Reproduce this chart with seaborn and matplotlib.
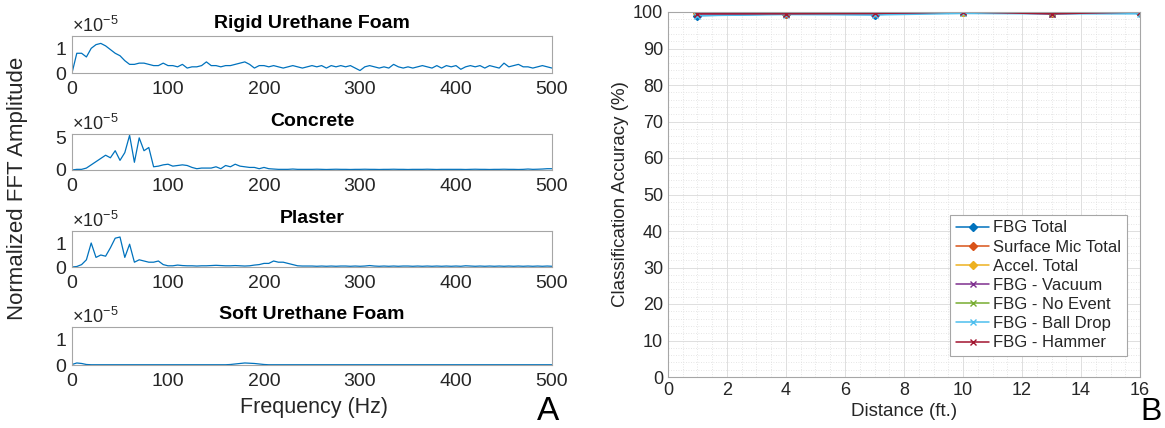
import numpy as np
import pandas as pd
import seaborn as sns
import matplotlib.pyplot as plt
from matplotlib.ticker import MultipleLocator

# ---- data (amplitudes in units of 1e-5) ----
freq = [0, 5, 10, 15, 20, 25, 30, 35, 40, 45,
        50, 55, 60, 65, 70, 75, 80, 85, 90, 95,
        100, 105, 110, 115, 120, 125, 130, 135, 140, 145,
        150, 155, 160, 165, 170, 175, 180, 185, 190, 195,
        200, 205, 210, 215, 220, 225, 230, 235, 240, 245,
        250, 255, 260, 265, 270, 275, 280, 285, 290, 295,
        300, 305, 310, 315, 320, 325, 330, 335, 340, 345,
        350, 355, 360, 365, 370, 375, 380, 385, 390, 395,
        400, 405, 410, 415, 420, 425, 430, 435, 440, 445,
        450, 455, 460, 465, 470, 475, 480, 485, 490, 495,
        500]

rigid_foam = [0, 0.8, 0.8, 0.65, 1.0, 1.15, 1.2, 1.1, 0.95, 0.8,
              0.7, 0.5, 0.35, 0.35, 0.4, 0.4, 0.35, 0.3, 0.3, 0.4,
              0.3, 0.3, 0.25, 0.35, 0.2, 0.25, 0.25, 0.3, 0.45, 0.3,
              0.3, 0.25, 0.3, 0.3, 0.35, 0.4, 0.45, 0.35, 0.2, 0.3,
              0.3, 0.25, 0.3, 0.25, 0.2, 0.25, 0.3, 0.25, 0.2, 0.25,
              0.3, 0.25, 0.3, 0.2, 0.3, 0.25, 0.3, 0.25, 0.3, 0.2,
              0.1, 0.25, 0.3, 0.25, 0.2, 0.25, 0.2, 0.35, 0.25, 0.2,
              0.25, 0.2, 0.25, 0.3, 0.25, 0.2, 0.3, 0.2, 0.3, 0.25,
              0.3, 0.15, 0.25, 0.3, 0.25, 0.3, 0.2, 0.3, 0.25, 0.2,
              0.4, 0.25, 0.3, 0.35, 0.25, 0.25, 0.2, 0.25, 0.3, 0.25,
              0.2]

concrete = [0, 0.1, 0.1, 0.3, 0.8, 1.3, 1.8, 2.3, 1.9, 3.0,
            1.5, 2.7, 5.4, 1.2, 5.0, 3.0, 3.5, 0.5, 0.6, 0.8,
            0.9, 0.6, 0.7, 0.8, 0.7, 0.4, 0.2, 0.3, 0.3, 0.3,
            0.5, 0.2, 0.7, 0.5, 0.9, 0.6, 0.5, 0.4, 0.4, 0.2,
            0.4, 0.2, 0.15, 0.1, 0.1, 0.1, 0.15, 0.1, 0.1, 0.1,
            0.1, 0.12, 0.1, 0.08, 0.1, 0.12, 0.1, 0.1, 0.08, 0.1,
            0.1, 0.12, 0.1, 0.1, 0.08, 0.1, 0.1, 0.12, 0.1, 0.1,
            0.08, 0.1, 0.1, 0.1, 0.12, 0.1, 0.08, 0.1, 0.1, 0.1,
            0.1, 0.1, 0.08, 0.1, 0.12, 0.1, 0.1, 0.08, 0.1, 0.1,
            0.12, 0.1, 0.1, 0.08, 0.1, 0.15, 0.1, 0.12, 0.15, 0.2,
            0.2]

plaster = [0, 0.02, 0.1, 0.3, 1.0, 0.4, 0.5, 0.45, 0.8, 1.2,
           1.25, 0.4, 0.95, 0.2, 0.3, 0.25, 0.2, 0.2, 0.25, 0.1,
           0.05, 0.05, 0.08, 0.06, 0.05, 0.05, 0.04, 0.05, 0.05, 0.06,
           0.07, 0.06, 0.05, 0.05, 0.06, 0.05, 0.04, 0.05, 0.08, 0.1,
           0.15, 0.15, 0.25, 0.2, 0.2, 0.15, 0.1, 0.05, 0.04, 0.04,
           0.04, 0.03, 0.04, 0.03, 0.04, 0.03, 0.04, 0.04, 0.03, 0.04,
           0.03, 0.04, 0.06, 0.04, 0.03, 0.04, 0.03, 0.04, 0.03, 0.04,
           0.04, 0.03, 0.04, 0.03, 0.04, 0.03, 0.04, 0.03, 0.04, 0.03,
           0.04, 0.03, 0.05, 0.04, 0.03, 0.04, 0.03, 0.04, 0.03, 0.04,
           0.03, 0.04, 0.03, 0.04, 0.03, 0.04, 0.03, 0.04, 0.03, 0.04,
           0.03]

soft_foam = [0.02, 0.08, 0.06, 0.02, 0.01, 0.01, 0.01, 0.01, 0.01, 0.01,
             0.01, 0.01, 0.01, 0.01, 0.01, 0.01, 0.01, 0.01, 0.01, 0.01,
             0.01, 0.01, 0.01, 0.01, 0.01, 0.01, 0.01, 0.01, 0.01, 0.01,
             0.01, 0.01, 0.01, 0.02, 0.04, 0.06, 0.08, 0.07, 0.06, 0.04,
             0.02, 0.01, 0.01, 0.01, 0.01, 0.01, 0.01, 0.01, 0.01, 0.01,
             0.01, 0.01, 0.01, 0.01, 0.01, 0.01, 0.01, 0.01, 0.01, 0.01,
             0.01, 0.01, 0.01, 0.01, 0.01, 0.01, 0.01, 0.01, 0.01, 0.01,
             0.01, 0.01, 0.01, 0.01, 0.01, 0.01, 0.01, 0.01, 0.01, 0.01,
             0.01, 0.01, 0.01, 0.01, 0.01, 0.01, 0.01, 0.01, 0.01, 0.01,
             0.01, 0.01, 0.01, 0.01, 0.01, 0.01, 0.01, 0.01, 0.01, 0.01,
             0.01]

materials = ["Rigid Urethane Foam", "Concrete", "Plaster", "Soft Urethane Foam"]
spectra = [rigid_foam, concrete, plaster, soft_foam]
ymax = [1.5, 5.6, 1.5, 1.5]
ytick_top = [1, 5, 1, 1]

distance = [1, 4, 7, 10, 13, 16]
fbg_total = [99.0, 99.5, 99.3, 100.0, 99.6, 99.8]
mic_total = [99.7, 99.5, 99.7, 100.0, 99.6, 100.0]
accel_total = [100.0, 100.0, 100.0, 100.0, 100.0, 100.0]
fbg_vacuum = [99.5, 99.5, 99.5, 100.0, 99.5, 100.0]
fbg_no_event = [100.0, 100.0, 100.0, 99.8, 100.0, 100.0]
fbg_ball_drop = [99.0, 99.3, 99.2, 99.6, 99.5, 99.5]
fbg_hammer = [99.5, 99.5, 99.6, 100.0, 99.5, 100.0]

series_names = ["FBG Total", "Surface Mic Total", "Accel. Total", "FBG - Vacuum",
                "FBG - No Event", "FBG - Ball Drop", "FBG - Hammer"]
series_vals = [fbg_total, mic_total, accel_total, fbg_vacuum,
               fbg_no_event, fbg_ball_drop, fbg_hammer]

# ---- style ----
sns.set_style("white")
plt.rcParams["font.family"] = ["Liberation Sans", "DejaVu Sans"]
plt.rcParams["mathtext.fontset"] = "custom"
plt.rcParams["mathtext.rm"] = "Liberation Sans"

matlab = ["#0072BD", "#D95319", "#EDB120", "#7E2F8E", "#77AC30", "#4DBEEE", "#A2142F"]
edge = "#a6a6a6"
txt = "#262626"

fig = plt.figure(figsize=(11.65, 4.28), dpi=100)
W, H = 1165, 428

def px_axes(left, top, right, bottom):
    return fig.add_axes([left / W, 1 - bottom / H, (right - left) / W, (bottom - top) / H])

# ---- panel A ----
boxes = [(36, 73), (134, 170), (231, 267), (327, 365)]
for name, vals, ym, yt, (top, bot) in zip(materials, spectra, ymax, ytick_top, boxes):
    ax = px_axes(72, top, 552, bot)
    sns.lineplot(x=freq, y=np.array(vals) * 1e-5, ax=ax, color="#0072BD", lw=0.9)
    ax.set_xlim(0, 500)
    ax.set_ylim(0, ym * 1e-5)
    ax.set_xticks([0, 100, 200, 300, 400, 500])
    ax.set_yticks([0, yt * 1e-5])
    ax.ticklabel_format(axis="y", style="sci", scilimits=(0, 0), useMathText=True)
    ax.yaxis.get_offset_text().set_fontsize(13)
    ax.yaxis.get_offset_text().set_color(txt)
    ax.tick_params(direction="in", length=3, labelsize=14, labelcolor=txt, width=0.6,
                   color=edge, top=False, right=False)
    ax.tick_params(axis="x", pad=6)
    for s in ax.spines.values():
        s.set_color(edge)
        s.set_linewidth(0.8)
    ax.set_title(name, fontsize=14, fontweight="bold", color="black", pad=6)

fig.text(18 / W, 1 - 188 / H, "Normalized FFT Amplitude", rotation=90,
         ha="center", va="center", fontsize=16, color=txt)
fig.text(314 / W, 1 - 408 / H, "Frequency (Hz)", ha="center", va="center",
         fontsize=15.5, color=txt)
fig.text(548 / W, 1 - 412 / H, "A", ha="center", va="center", fontsize=24, color="black")

# ---- panel B ----
axb = px_axes(668, 12, 1140, 377)
for name, vals, c in zip(series_names, series_vals, matlab):
    mk = "D" if "Total" in name else "x"
    sns.lineplot(x=distance, y=vals, ax=axb, color=c, lw=1.1, marker=mk,
                 markersize=4.5 if mk == "D" else 5, markeredgecolor=c,
                 markeredgewidth=1.0, label=name)
axb.set_xlim(0, 16)
axb.set_ylim(0, 100)
axb.set_xticks(range(0, 17, 2))
axb.set_yticks(range(0, 101, 10))
axb.xaxis.set_minor_locator(MultipleLocator(0.5))
axb.yaxis.set_minor_locator(MultipleLocator(2))
axb.grid(which="major", color="#dedede", lw=0.7)
axb.grid(which="minor", color="#dedede", lw=0.6, ls=(0, (1, 2)))
axb.set_axisbelow(True)
axb.tick_params(which="major", direction="in", length=3, color=edge, width=0.6,
                labelsize=13, labelcolor=txt, top=False, right=False)
axb.tick_params(which="minor", length=0)
for s in axb.spines.values():
    s.set_color(edge)
    s.set_linewidth(0.8)
axb.set_xlabel("Distance (ft.)", fontsize=13.5, color=txt, labelpad=3)
axb.set_ylabel("Classification Accuracy (%)", fontsize=13.5, color=txt, labelpad=3)
leg = axb.legend(loc="lower right", bbox_to_anchor=(0.973, 0.057), fontsize=12,
                 frameon=True, fancybox=False, framealpha=1, edgecolor=edge,
                 handlelength=2.0, handletextpad=0.25, labelspacing=0.25,
                 borderpad=0.35, borderaxespad=0)
leg.get_frame().set_linewidth(0.8)
fig.text(1162 / W, 1 - 412 / H, "B", ha="right", va="center", fontsize=23, color="black")

fig.savefig("out.png", dpi=100)
